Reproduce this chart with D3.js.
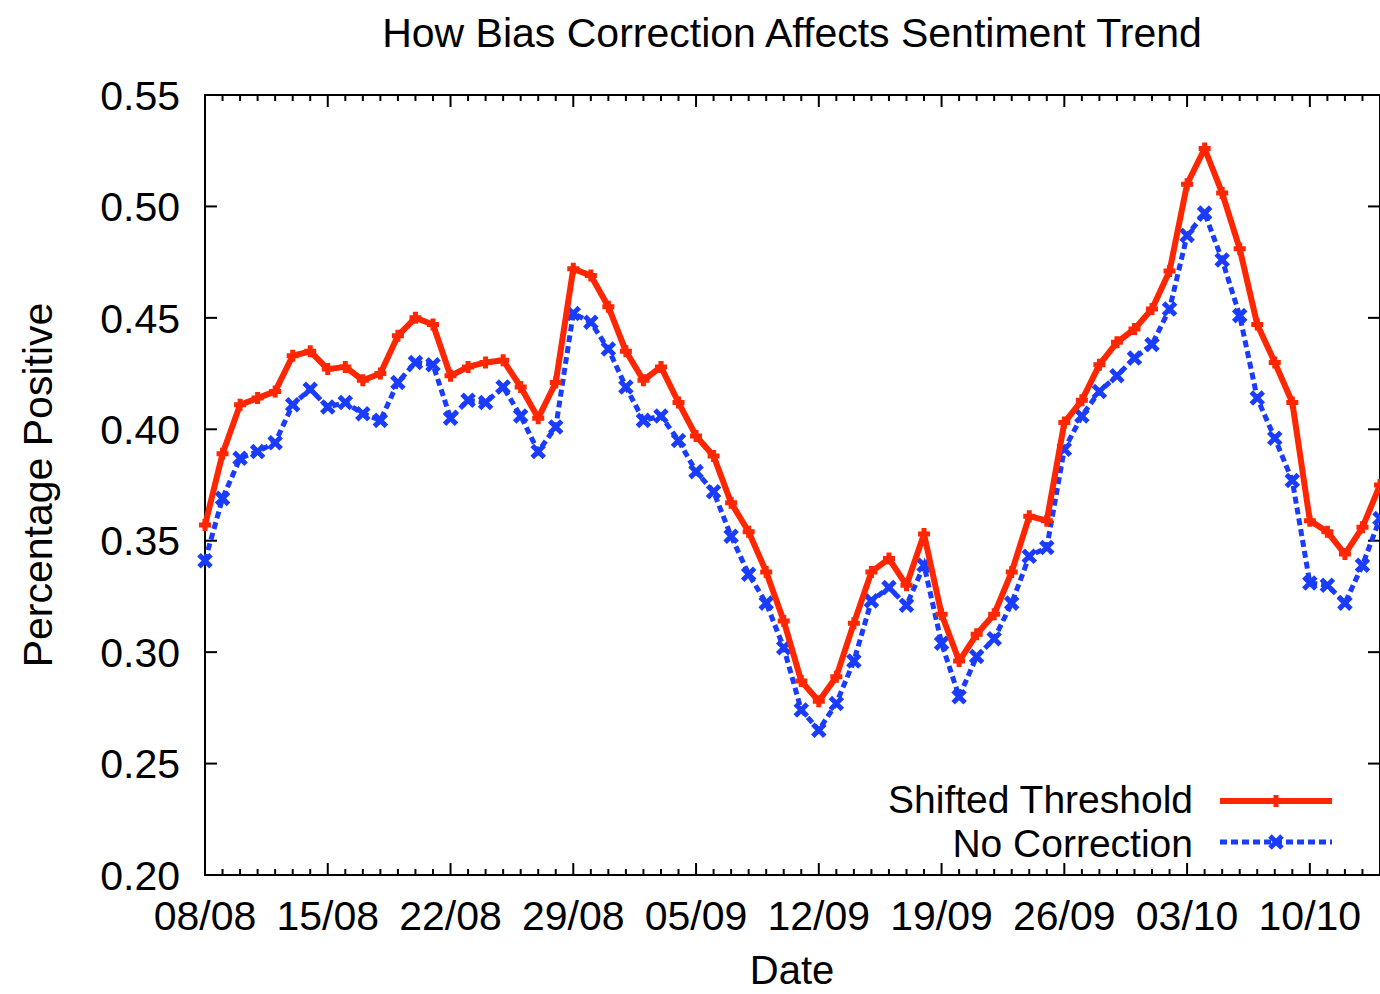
<!DOCTYPE html>
<html>
<head>
<meta charset="utf-8">
<script src="https://cdn.jsdelivr.net/npm/d3@7"></script>
<style>
  html, body { margin: 0; padding: 0; background: #fff; }
  svg { display: block; }
  text { font-family: "Liberation Sans", Helvetica, Arial, sans-serif; fill: #000; }
</style>
</head>
<body>
<svg id="chart" width="1380" height="994"></svg>
<script>
// ---- Data ----
const startDate = "2013-08-08";
const dayCount = 68; // daily observations 08/08 .. 14/10
const shiftedThreshold = [
  0.357, 0.389, 0.411, 0.414, 0.417, 0.433, 0.435, 0.427, 0.428, 0.422,
  0.425, 0.442, 0.450, 0.447, 0.424, 0.428, 0.430, 0.431, 0.419, 0.405,
  0.421, 0.472, 0.469, 0.455, 0.435, 0.422, 0.428, 0.412, 0.397, 0.388,
  0.367, 0.354, 0.336, 0.314, 0.287, 0.278, 0.289, 0.313, 0.336, 0.342,
  0.330, 0.353, 0.317, 0.296, 0.308, 0.317, 0.336, 0.361, 0.359, 0.403,
  0.413, 0.429, 0.439, 0.445, 0.454, 0.471, 0.510, 0.526, 0.506, 0.481,
  0.447, 0.430, 0.412, 0.359, 0.354, 0.344, 0.356, 0.375
];
const noCorrection = [
  0.341, 0.369, 0.387, 0.390, 0.394, 0.411, 0.418, 0.410, 0.412, 0.407,
  0.404, 0.421, 0.430, 0.429, 0.405, 0.413, 0.412, 0.419, 0.406, 0.390,
  0.401, 0.452, 0.448, 0.436, 0.419, 0.404, 0.406, 0.395, 0.381, 0.372,
  0.352, 0.335, 0.322, 0.302, 0.274, 0.265, 0.277, 0.296, 0.323, 0.329,
  0.321, 0.339, 0.304, 0.280, 0.298, 0.306, 0.322, 0.343, 0.347, 0.391,
  0.406, 0.417, 0.424, 0.432, 0.438, 0.454, 0.487, 0.497, 0.476, 0.451,
  0.414, 0.396, 0.377, 0.331, 0.330, 0.322, 0.339, 0.360
];
const xTickLabels = ["08/08","15/08","22/08","29/08","05/09","12/09","19/09","26/09","03/10","10/10"];
const yTicks = [0.20, 0.25, 0.30, 0.35, 0.40, 0.45, 0.50, 0.55];
const seriesNames = ["Shifted Threshold", "No Correction"];
const seriesColors = ["#ff2600", "#1a3cff"];

// ---- Layout ----
const M = { left: 205, right: 1380, top: 95, bottom: 875 };
const FS = 41;

const svg = d3.select("#chart");
const parse = d3.timeParse("%Y-%m-%d");
const t0 = parse(startDate);
const dates = d3.range(dayCount).map(i => d3.timeDay.offset(t0, i));
const tEnd = dates[dates.length - 1];

const x = d3.scaleTime().domain([t0, tEnd]).range([M.left, M.right]);
const y = d3.scaleLinear().domain([0.20, 0.55]).range([M.bottom, M.top]);

const parseLabel = d3.timeParse("%d/%m/%Y");
const majorDates = xTickLabels.map(s => parseLabel(s + "/2013"));
const fmtX = d3.timeFormat("%d/%m");

// Frame
svg.append("rect")
  .attr("x", M.left).attr("y", M.top)
  .attr("width", M.right - M.left).attr("height", M.bottom - M.top)
  .attr("fill", "none").attr("stroke", "#000").attr("stroke-width", 2);

// Ticks (inward), bottom and top
const gT = svg.append("g").attr("stroke", "#000").attr("stroke-width", 2);
dates.forEach(d => {
  const isMajor = majorDates.some(m => +m === +d);
  const len = isMajor ? 12 : 6;
  const xx = x(d);
  gT.append("line").attr("x1", xx).attr("x2", xx).attr("y1", M.bottom).attr("y2", M.bottom - len);
  gT.append("line").attr("x1", xx).attr("x2", xx).attr("y1", M.top).attr("y2", M.top + len);
});
yTicks.forEach(v => {
  const yy = y(v);
  gT.append("line").attr("x1", M.left).attr("x2", M.left + 12).attr("y1", yy).attr("y2", yy);
  gT.append("line").attr("x1", M.right).attr("x2", M.right - 12).attr("y1", yy).attr("y2", yy);
});

// Tick labels
svg.append("g").selectAll("text").data(majorDates).join("text")
  .attr("x", d => x(d)).attr("y", 930)
  .attr("text-anchor", "middle").attr("font-size", FS)
  .text(d => fmtX(d));
svg.append("g").selectAll("text").data(yTicks).join("text")
  .attr("x", 180).attr("y", d => y(d)).attr("dy", "0.36em")
  .attr("text-anchor", "end").attr("font-size", FS)
  .text(d => d3.format(".2f")(d));

// Titles
svg.append("text").attr("x", 792).attr("y", 47).attr("text-anchor", "middle")
  .attr("font-size", FS).text("How Bias Correction Affects Sentiment Trend");
svg.append("text").attr("x", 792).attr("y", 984).attr("text-anchor", "middle")
  .attr("font-size", 40).text("Date");
svg.append("text").attr("transform", "translate(52,485) rotate(-90)")
  .attr("text-anchor", "middle").attr("font-size", FS).text("Percentage Positive");

// Lines
const line = d3.line().x(d => x(d.date)).y(d => y(d.value));
const mk = arr => arr.map((v, i) => ({ date: dates[i], value: v }));
const redData = mk(shiftedThreshold);
const blueData = mk(noCorrection);

const plotG = svg.append("g");

function plus(g, cx, cy, s, color) {
  g.append("path").attr("d", `M${cx - s},${cy}H${cx + s}M${cx},${cy - s}V${cy + s}`)
    .attr("stroke", color).attr("stroke-width", 5).attr("fill", "none");
}
function cross(g, cx, cy, s, color) {
  g.append("path").attr("d", `M${cx - s},${cy - s}L${cx + s},${cy + s}M${cx - s},${cy + s}L${cx + s},${cy - s}`)
    .attr("stroke", color).attr("stroke-width", 5).attr("fill", "none");
}

// Blue (dashed) first, then red on top
plotG.append("path").datum(blueData).attr("d", line)
  .attr("fill", "none").attr("stroke", seriesColors[1]).attr("stroke-width", 5)
  .attr("stroke-dasharray", "7,4");
const gB = plotG.append("g");
blueData.forEach(d => cross(gB, x(d.date), y(d.value), 6, seriesColors[1]));

plotG.append("path").datum(redData).attr("d", line)
  .attr("fill", "none").attr("stroke", seriesColors[0]).attr("stroke-width", 6)
  .attr("stroke-linejoin", "round");
const gR = plotG.append("g");
redData.forEach(d => plus(gR, x(d.date), y(d.value), 6, seriesColors[0]));

// Legend
const lg = svg.append("g");
lg.append("text").attr("x", 1193).attr("y", 813).attr("text-anchor", "end")
  .attr("font-size", 39).text(seriesNames[0]);
lg.append("text").attr("x", 1193).attr("y", 857).attr("text-anchor", "end")
  .attr("font-size", 39).text(seriesNames[1]);
lg.append("line").attr("x1", 1220).attr("x2", 1332).attr("y1", 801).attr("y2", 801)
  .attr("stroke", seriesColors[0]).attr("stroke-width", 6);
plus(lg, 1276, 801, 6, seriesColors[0]);
lg.append("line").attr("x1", 1220).attr("x2", 1332).attr("y1", 842).attr("y2", 842)
  .attr("stroke", seriesColors[1]).attr("stroke-width", 5).attr("stroke-dasharray", "7,4");
cross(lg, 1276, 842, 6, seriesColors[1]);
</script>
</body>
</html>
